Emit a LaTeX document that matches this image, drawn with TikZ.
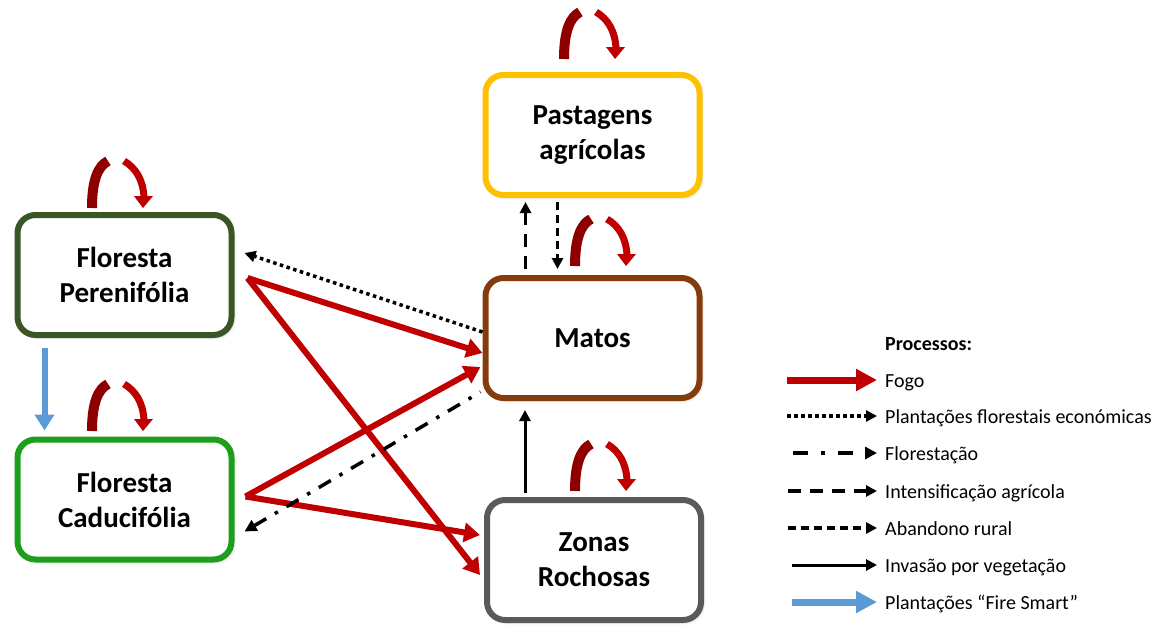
\documentclass[tikz,border=0pt]{standalone}
\usepackage{fontspec}
\setmainfont{Carlito}
\usetikzlibrary{arrows.meta,calc,shadows.blur}
\definecolor{fire}{HTML}{C00000}
\definecolor{firedark}{HTML}{8E0000}
\definecolor{dgreen}{HTML}{3A5526}
\definecolor{lgreen}{HTML}{1CA01C}
\definecolor{pyellow}{HTML}{FFC000}
\definecolor{mbrown}{HTML}{843C0C}
\definecolor{rgray}{HTML}{5A5A5A}
\definecolor{fsblue}{HTML}{5B9BD5}
\tikzset{
  state/.style={draw, line width=6pt, rounded corners=18pt, fill=white,
    minimum width=214pt, minimum height=120pt, align=center,
    blur shadow={shadow xshift=2pt, shadow yshift=-2pt, shadow blur radius=3pt, shadow opacity=25},
    font=\fontsize{29}{35}\selectfont\bfseries},
  firearrow/.style={draw=fire, line width=6pt, -{Triangle[length=16pt,width=19pt]}},
  smartarrow/.style={draw=fsblue, line width=6pt, -{Triangle[length=16pt,width=19pt]}},
  dotarrow/.style={line width=3.5pt, dash pattern=on 3.5pt off 3.5pt, -{Triangle[length=11pt,width=11pt]}},
  % drawn from the tip backwards so the pattern starts at the arrow head
  dasharrowrev/.style={line width=3.5pt, dash pattern=on 14pt off 10pt on 3.5pt off 10pt, {Triangle[length=12pt,width=12pt]}-},
  legdasharrowrev/.style={line width=3.5pt, dash pattern=on 15pt off 13pt on 4pt off 13pt, dash phase=32pt, {Triangle[length=12pt,width=12pt]}-},
  intarrow/.style={line width=3.5pt, dash pattern=on 13pt off 9pt, -{Triangle[length=11pt,width=11pt]}},
  abarrow/.style={line width=3.5pt, dash pattern=on 8pt off 5pt, -{Triangle[length=11pt,width=11pt]}},
  invarrow/.style={line width=3pt, -{Triangle[length=11pt,width=11pt]}},
  legtext/.style={anchor=base west, inner sep=0pt, font=\fontsize{20}{24}\selectfont},
}
\newcommand\fireloop[2]{%
  \draw[firedark, line width=10pt] (#1,#2) .. controls (#1,{#2-28}) and ({#1+6},{#2-42}) .. ({#1+16},{#2-47});
  \draw[fire, line width=7pt] ({#1+32},{#2-47}) .. controls ({#1+44},{#2-40}) and ({#1+51},{#2-28}) .. ({#1+52},{#2-11});
  \fill[fire] ({#1+42},{#2-12}) -- ({#1+61},{#2-12}) -- ({#1+51},#2) -- cycle;
}
\begin{document}
\begin{tikzpicture}[x=1pt,y=-1pt]
\useasboundingbox (0,0) rectangle (1159,624);

% states
\node[state, draw=dgreen] (fp) at (124.5,275) {Floresta\\Perenifólia};
\node[state, draw=lgreen] (fc) at (124.5,499.5) {Floresta\\Caducifólia};
\node[state, draw=pyellow] (pa) at (592.5,135) {Pastagens\\agrícolas};
\node[state, draw=mbrown] (ma) at (592.5,338) {Matos};
\node[state, draw=rgray] (zr) at (594,560) {Zonas\\Rochosas};

% self loops (fire)
\fireloop{92}{208}
\fireloop{92}{431}
\fireloop{564}{59}
\fireloop{575}{266}
\fireloop{575}{491}

% fire transitions
\draw[firearrow] ($(fp.east)+(13,3)$) -- ($(ma.west)+(0,15)$);
\draw[firearrow] ($(fp.east)+(13,3)$) -- ($(zr.west)+(-4,15)$);
\draw[firearrow] ($(fc.east)+(11,-3)$) -- ($(ma.west)+(-2,29)$);
\draw[firearrow] ($(fc.east)+(11,-3)$) -- ($(zr.west)+(-4,-25)$);

% other transitions
\draw[dotarrow] ($(ma.west)+(0,-6)$) -- ($(fp.east)+(10,-22)$);
\draw[dasharrowrev] ($(fc.east)+(10,32)$) -- ($(ma.south west)+(-2,-9)$);
\draw[intarrow] ($(ma.north)+(-67,-6)$) -- ($(pa.south)+(-67,4)$);
\draw[abarrow] ($(pa.south)+(-35,4)$) -- ($(ma.north)+(-35,-6)$);
\draw[invarrow] ($(zr.north)+(-69,-4)$) -- ($(ma.south)+(-67.5,9)$);
\draw[smartarrow] ($(fp.south)+(-80,10)$) -- ($(fc.north)+(-80,-6)$);

% legend
\node[legtext, font=\fontsize{20}{24}\selectfont\bfseries] (lt) at (885,350) {Processos:};
\coordinate (l1a) at (787,380); \coordinate (l1b) at (877,380);
\coordinate (l2a) at (787,416); \coordinate (l2b) at (877,416);
\coordinate (l3a) at (790,453); \coordinate (l3b) at (877,453);
\coordinate (l4a) at (788,491); \coordinate (l4b) at (877,491);
\coordinate (l5a) at (788,528); \coordinate (l5b) at (877,528);
\coordinate (l6a) at (792,565); \coordinate (l6b) at (877,565);
\coordinate (l7a) at (792,602); \coordinate (l7b) at (877,602);
\draw[draw=fire, line width=7pt, -{Triangle[length=21pt,width=21pt]}] (l1a) -- (l1b);
\draw[dotarrow] (l2a) -- (l2b);
\draw[legdasharrowrev] (l3b) -- (l3a);
\draw[intarrow] (l4a) -- (l4b);
\draw[abarrow] (l5a) -- (l5b);
\draw[invarrow] (l6a) -- (l6b);
\draw[draw=fsblue, line width=7pt, -{Triangle[length=21pt,width=21pt]}] (l7a) -- (l7b);
\node[legtext] (t1) at (885,387) {Fogo};
\node[legtext] (t2) at (885,423) {Plantações florestais económicas};
\node[legtext] (t3) at (885,460) {Florestação};
\node[legtext] (t4) at (885,498) {Intensificação agrícola};
\node[legtext] (t5) at (885,535) {Abandono rural};
\node[legtext] (t6) at (885,572) {Invasão por vegetação};
\node[legtext] (t7) at (885,609) {Plantações “Fire Smart”};
\end{tikzpicture}
\end{document}
